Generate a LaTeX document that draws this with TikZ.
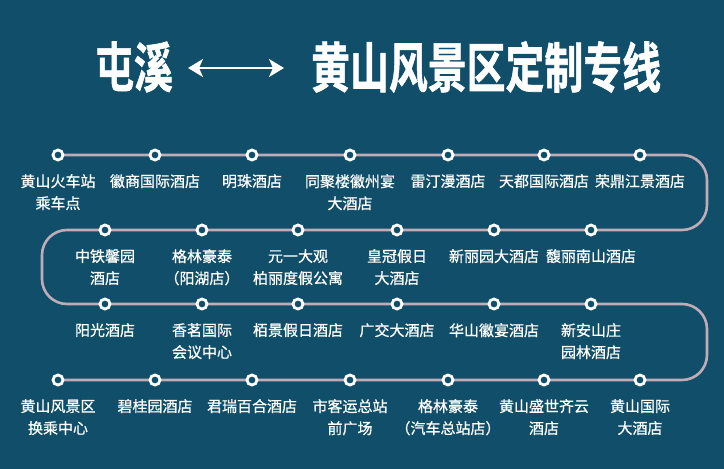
\documentclass[tikz,border=0pt]{standalone}
\usepackage{fontspec}
\newfontfamily\cjk{Noto Sans CJK SC}[FakeBold=0.7]
\newfontfamily\cjktitle{Noto Sans CJK SC Bold}[FakeBold=1.2]
\usetikzlibrary{arrows.meta}
\definecolor{bgblue}{RGB}{16,78,105}
\definecolor{routec}{RGB}{192,172,182}
\tikzset{
  stop/.style={circle,draw=white,fill=bgblue,line width=2.8pt,minimum size=10pt,inner sep=0pt},
  lab/.style={anchor=north,align=center,text=white,inner sep=0pt,font=\cjk\fontsize{15}{22}\selectfont},
  route/.style={draw=routec,line width=2.6pt,rounded corners=25pt},
  titletext/.style={text=white,inner sep=0pt,font=\cjktitle\fontsize{54}{54}\selectfont}
}
\begin{document}
\begin{tikzpicture}[x=1pt,y=-1pt]
\fill[bgblue] (0,0) rectangle (724,469);
\useasboundingbox (0,0) rectangle (724,469);
% title
\node[titletext,anchor=west,xscale=0.72] (t1) at (95,67) {屯溪};
\node[titletext,anchor=west,xscale=0.72] (t2) at (311,67) {黄山风景区定制专线};
\coordinate (a1) at (188,68);
\coordinate (a2) at (284,68);
\draw[white,line width=2.4pt,{Stealth[length=15pt,width=18pt,inset=4pt]}-{Stealth[length=15pt,width=18pt,inset=4pt]}] (a1) -- (a2);
% station coordinates
\foreach \n/\x in {1/58,2/155,3/252,4/350,5/448,6/544,7/640}{\coordinate (s\n) at (\x,155);}
\foreach \n/\x in {8/105,9/202,10/298,11/397,12/494,13/591}{\coordinate (s\n) at (\x,230);}
\foreach \n/\x in {14/105,15/202,16/298,17/397,18/494,19/591}{\coordinate (s\n) at (\x,304);}
\foreach \n/\x in {20/58,21/155,22/252,23/350,24/448,25/544,26/640}{\coordinate (s\n) at (\x,380);}
\coordinate (c1) at (707,155);
\coordinate (c2) at (707,230);
\coordinate (c3) at (42,230);
\coordinate (c4) at (42,304);
\coordinate (c5) at (707,304);
\coordinate (c6) at (707,380);
\draw[route] (s1) -- (c1) -- (c2) -- (c3) -- (c4) -- (c5) -- (c6) -- (s20);
\foreach \n in {1,...,26}{\node[stop] (p\n) at (s\n) {};}
% labels
\node[lab] (l1) at ([yshift=-19pt]p1) {黄山火车站\\乘车点};
\node[lab] (l2) at ([yshift=-19pt]p2) {徽商国际酒店};
\node[lab] (l3) at ([yshift=-19pt]p3) {明珠酒店};
\node[lab] (l4) at ([yshift=-19pt]p4) {同聚楼徽州宴\\大酒店};
\node[lab] (l5) at ([yshift=-19pt]p5) {雷汀漫酒店};
\node[lab] (l6) at ([yshift=-19pt]p6) {天都国际酒店};
\node[lab] (l7) at ([yshift=-19pt]p7) {荣鼎江景酒店};
\node[lab] (l8) at ([yshift=-19pt]p8) {中铁馨园\\酒店};
\node[lab] (l9) at ([yshift=-19pt]p9) {格林豪泰\\（阳湖店）};
\node[lab] (l10) at ([yshift=-19pt]p10) {元一大观\\柏丽度假公寓};
\node[lab] (l11) at ([yshift=-19pt]p11) {皇冠假日\\大酒店};
\node[lab] (l12) at ([yshift=-19pt]p12) {新丽园大酒店};
\node[lab] (l13) at ([yshift=-19pt]p13) {馥丽南山酒店};
\node[lab] (l14) at ([yshift=-19pt]p14) {阳光酒店};
\node[lab] (l15) at ([yshift=-19pt]p15) {香茗国际\\会议中心};
\node[lab] (l16) at ([yshift=-19pt]p16) {栢景假日酒店};
\node[lab] (l17) at ([yshift=-19pt]p17) {广交大酒店};
\node[lab] (l18) at ([yshift=-19pt]p18) {华山徽宴酒店};
\node[lab] (l19) at ([yshift=-19pt]p19) {新安山庄\\园林酒店};
\node[lab] (l20) at ([yshift=-19pt]p20) {黄山风景区\\换乘中心};
\node[lab] (l21) at ([yshift=-19pt]p21) {碧桂园酒店};
\node[lab] (l22) at ([yshift=-19pt]p22) {君瑞百合酒店};
\node[lab] (l23) at ([yshift=-19pt]p23) {市客运总站\\前广场};
\node[lab] (l24) at ([yshift=-19pt]p24) {格林豪泰\\（汽车总站店）};
\node[lab] (l25) at ([yshift=-19pt]p25) {黄山盛世齐云\\酒店};
\node[lab] (l26) at ([yshift=-19pt]p26) {黄山国际\\大酒店};
\end{tikzpicture}
\end{document}
